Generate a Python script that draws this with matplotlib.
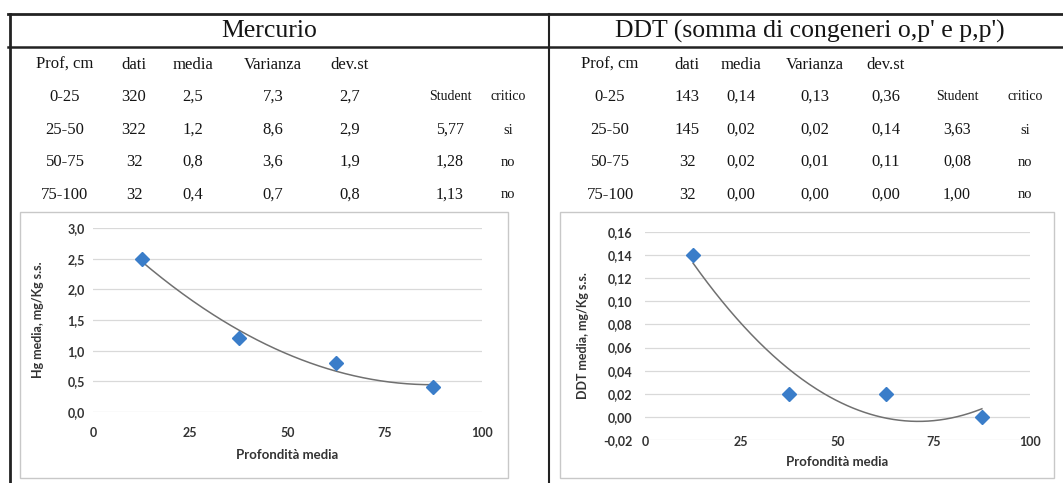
import numpy as np
import matplotlib.pyplot as plt
from matplotlib.lines import Line2D
from matplotlib.patches import Rectangle

W, H = 1063, 483

# table data
header = ['Prof, cm', 'dati', 'media', 'Varianza', 'dev.st']
depth_ranges = ['0-25', '25-50', '50-75', '75-100']
depth_mid = [12.5, 37.5, 62.5, 87.5]

hg_n = [320, 322, 32, 32]
hg_mean = [2.5, 1.2, 0.8, 0.4]
hg_var = [7.3, 8.6, 3.6, 0.7]
hg_sd = [2.7, 2.9, 1.9, 0.8]
hg_student = [5.77, 1.28, 1.13]
hg_crit = ['si', 'no', 'no']

ddt_n = [143, 145, 32, 32]
ddt_mean = [0.14, 0.02, 0.02, 0.00]
ddt_var = [0.13, 0.02, 0.01, 0.00]
ddt_sd = [0.36, 0.14, 0.11, 0.00]
ddt_student = [3.63, 0.08, 1.00]
ddt_crit = ['si', 'no', 'no']

TXT = '#151515'
SERIF = 'Liberation Serif'
SANS = 'Lato'


def fx(x):
    return x / W


def fy(y):
    return 1 - y / H


def comma(v, nd):
    return f'{v:.{nd}f}'.replace('.', ',')


def hline(fig, x0, x1, y, lw, color='#222222'):
    fig.add_artist(Line2D([fx(x0), fx(x1)], [fy(y), fy(y)], lw=lw, color=color))


def vline(fig, x, y0, y1, lw, color='#222222'):
    fig.add_artist(Line2D([fx(x), fx(x)], [fy(y0), fy(y1)], lw=lw, color=color))


# draws one block of the table (title, header row, four data rows)
def draw_table(fig, title, title_x, cols, n, mean, var, sd, student, crit, nd):
    fig.text(fx(title_x), fy(31), title, ha='center', va='center',
             family=SERIF, fontsize=18.5, color=TXT)
    rows_y = [65, 97, 130, 162, 195]
    for cx, h in zip(cols[:5], header):
        fig.text(fx(cx), fy(rows_y[0]), h, ha='center', va='center',
                 family=SERIF, fontsize=12, color=TXT)
    fig.text(fx(cols[5]), fy(rows_y[1]), 'Student', ha='center', va='center',
             family=SERIF, fontsize=10, color=TXT)
    fig.text(fx(cols[6]), fy(rows_y[1]), 'critico', ha='center', va='center',
             family=SERIF, fontsize=10, color=TXT)
    for i in range(4):
        y = fy(rows_y[i + 1])
        vals = [depth_ranges[i], str(n[i]), comma(mean[i], nd),
                comma(var[i], nd), comma(sd[i], nd)]
        for cx, v in zip(cols[:5], vals):
            fig.text(fx(cx), y, v, ha='center', va='center',
                     family=SERIF, fontsize=12, color=TXT)
        if i > 0:
            fig.text(fx(cols[5]), y, comma(student[i - 1], 2), ha='center',
                     va='center', family=SERIF, fontsize=11.5, color=TXT)
            fig.text(fx(cols[6]), y, crit[i - 1], ha='center', va='center',
                     family=SERIF, fontsize=10.5, color=TXT)


# scatter with order-2 polynomial trend line
def draw_chart(ax, means, ylim, yticks, nd, ylabel, ypad, ylab_x, xlab_y, xpad):
    coef = np.polyfit(depth_mid, means, 2)
    xs = np.linspace(depth_mid[0], depth_mid[-1], 200)
    ax.plot(xs, np.polyval(coef, xs), color='#707070', lw=1.1, zorder=2)
    ax.plot(depth_mid, means, ls='none', marker='D', ms=7.5,
            color='#3a7dc9', mec='#3a7dc9', zorder=3)
    ax.set_xlim(0, 100)
    ax.set_ylim(*ylim)
    ax.set_xticks([0, 25, 50, 75, 100])
    ax.set_xticklabels(['0', '25', '50', '75', '100'])
    ax.set_yticks(yticks)
    ax.set_yticklabels([comma(t, nd) for t in yticks])
    for s in ax.spines.values():
        s.set_visible(False)
    ax.yaxis.grid(True, color='#d9d9d9', lw=0.9)
    ax.set_axisbelow(True)
    ax.tick_params(length=0, labelsize=9, labelcolor='#333333')
    ax.tick_params(axis='y', pad=ypad)
    ax.tick_params(axis='x', pad=xpad)
    for lab in ax.get_xticklabels() + ax.get_yticklabels():
        lab.set_family(SANS)
        lab.set_fontweight('bold')
    ax.set_xlabel('Profondità media', family=SANS, fontweight='bold',
                  fontsize=9.5, color='#333333')
    ax.set_ylabel(ylabel, family=SANS, fontweight='bold', fontsize=9,
                  color='#333333')
    ax.xaxis.set_label_coords(0.5, xlab_y)
    ax.yaxis.set_label_coords(ylab_x, 0.5)


fig = plt.figure(figsize=(W / 100, H / 100), dpi=100)
fig.patch.set_facecolor('white')

# table frame
hline(fig, 8, 1063, 14, 2.0)
hline(fig, 8, 1063, 47, 1.8)
vline(fig, 10, 14, 483, 2.0)
vline(fig, 549, 14, 483, 1.5)

draw_table(fig, 'Mercurio', 269,
           [65, 134, 193, 273, 350, 450, 508],
           hg_n, hg_mean, hg_var, hg_sd, hg_student, hg_crit, 1)
draw_table(fig, "DDT (somma di congeneri o,p' e p,p')", 810,
           [610, 687, 741, 815, 886, 957, 1025],
           ddt_n, ddt_mean, ddt_var, ddt_sd, ddt_student, ddt_crit, 2)

# chart areas
for x0, x1 in [(20, 508), (560, 1054)]:
    fig.add_artist(Rectangle((fx(x0), fy(478)), fx(x1 - x0), (478 - 212) / H,
                             fill=False, edgecolor='#c8c8c8', lw=1.0))

ax1 = fig.add_axes([fx(93), fy(412), fx(482 - 93), (412 - 228) / H])
draw_chart(ax1, hg_mean, (0, 3), [0, 0.5, 1.0, 1.5, 2.0, 2.5, 3.0], 1,
           'Hg media, mg/Kg s.s.', 6, -0.125, -0.2, 11)

ax2 = fig.add_axes([fx(645), fy(440), fx(1030 - 645), (440 - 232) / H])
draw_chart(ax2, ddt_mean, (-0.02, 0.16),
           [-0.02, 0.0, 0.02, 0.04, 0.06, 0.08, 0.10, 0.12, 0.14, 0.16], 2,
           'DDT media, mg/Kg s.s.', 9, -0.145, -0.075, -3)

fig.savefig('out.png', dpi=100)
